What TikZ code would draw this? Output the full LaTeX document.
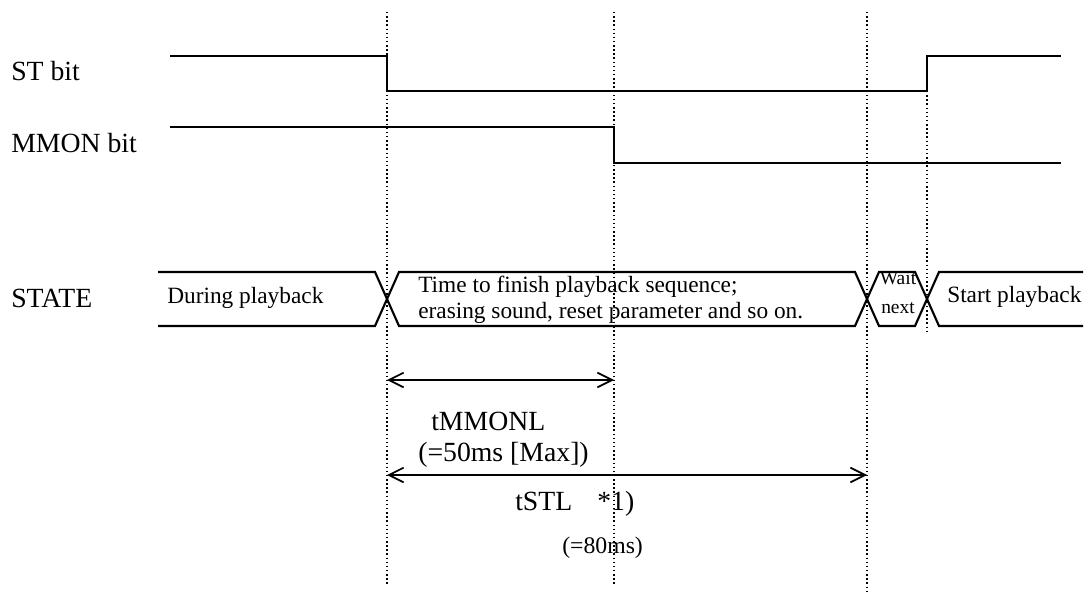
\documentclass[tikz,border=0pt]{standalone}
\usepackage{fontspec}
\setmainfont{Liberation Serif}
\usetikzlibrary{arrows.meta}
\tikzset{
  sig/.style={line width=1.6pt, line cap=rect},
  bus/.style={line width=1.6pt},
  guide/.style={line width=1.1pt, dotted},
  span/.style={line width=1.5pt, {Straight Barb[length=11pt,width=11pt,line width=1.3pt]}-{Straight Barb[length=11pt,width=11pt,line width=1.3pt]}},
  lbl/.style={inner sep=0pt, anchor=base west, font=\fontsize{20.8pt}{24pt}\selectfont},
  sttext/.style={inner sep=0pt, anchor=base west, font=\fontsize{17.5pt}{20pt}\selectfont},
  smalltext/.style={inner sep=0pt, anchor=base, font=\fontsize{14.6pt}{17pt}\selectfont},
}
\begin{document}
\begin{tikzpicture}[x=0.75pt, y=-0.75pt]
\useasboundingbox (0,0) rectangle (1088,592);

% vertical time guides
\draw[guide] (387,12) -- (387,585);
\draw[guide] (614,12) -- (614,585);
\draw[guide] (867,12) -- (867,592);
\draw[guide] (927,91) -- (927,332);

% signal names
\node[lbl] (stname) at (11,80) {ST bit};
\node[lbl] (mmonname) at (11,152) {MMON bit};
\node[lbl] (statename) at (11,307) {STATE};

% ST bit waveform
\draw[sig] (171,56) -- (387,56) -- (387,91) -- (927,91) -- (927,56) -- (1060,56);
% MMON bit waveform
\draw[sig] (171,127) -- (614,127) -- (614,163) -- (1060,163);

% STATE bus (top 272, bottom 326, crossings at 387, 867, 927)
\draw[bus] (158,272) -- (375,272) -- (399,326) -- (855,326) -- (879,272) -- (915,272) -- (939,326) -- (1083,326);
\draw[bus] (158,326) -- (375,326) -- (399,272) -- (855,272) -- (879,326) -- (915,326) -- (939,272) -- (1083,272);

\node[sttext] (s1) at (167,303) {During playback};
\node[sttext] (s2a) at (418,292) {Time to finish playback sequence;};
\node[sttext] (s2b) at (418,318) {erasing sound, reset parameter and so on.};
\node[smalltext] (s3a) at (898,284) {Wait};
\node[smalltext] (s3b) at (898,313) {next};
\node[sttext] (s4) at (947,302) {Start playback};

% timing spans
\coordinate (a1) at (387,380);
\coordinate (a2) at (614,380);
\coordinate (b1) at (387,475);
\coordinate (b2) at (867,475);
\draw[span] (a1) -- (a2);
\draw[span] (b1) -- (b2);

\node[lbl] (tmm) at (431,430) {tMMONL};
\node[lbl] (tmmv) at (418,461) {(=50ms [Max])};
\node[lbl] (tst) at (515,510) {tSTL};
\node[lbl] (note) at (597,510) {*1)};
\node[inner sep=0pt, anchor=base west, font=\fontsize{17.8pt}{20pt}\selectfont] (tstv) at (562,553) {(=80ms)};
\end{tikzpicture}
\end{document}
